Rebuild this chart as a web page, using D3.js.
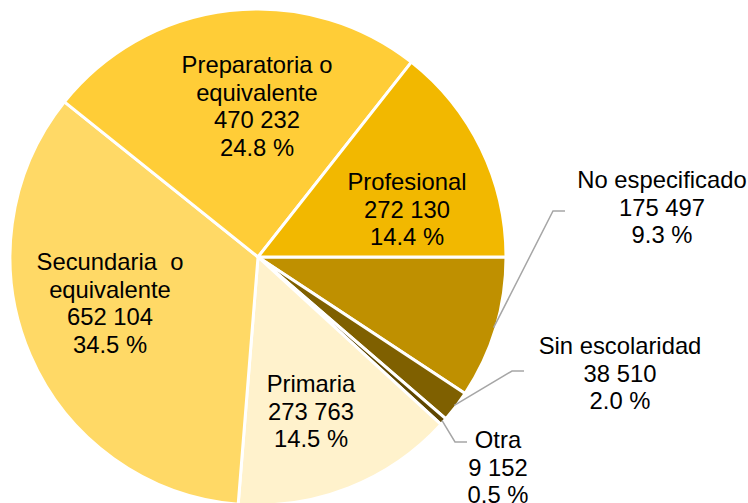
<!DOCTYPE html>
<html>
<head>
<meta charset="utf-8">
<script src="https://cdn.jsdelivr.net/npm/d3@7"></script>
<style>
  html, body { margin: 0; padding: 0; background: #fff; }
  svg { display: block; }
  text { font-family: "Liberation Sans", Arial, sans-serif; font-size: 23.8px; fill: #000; }
</style>
</head>
<body>
<svg id="chart"></svg>
<script>
// data, clockwise from 3 o'clock
var categories = ["No especificado", "Sin escolaridad", "Otra", "Primaria",
                  "Secundaria  o equivalente", "Preparatoria o equivalente", "Profesional"];
var values = [175497, 38510, 9152, 273763, 652104, 470232, 272130];
var valueLabels = ["175 497", "38 510", "9 152", "273 763", "652 104", "470 232", "272 130"];
var pctLabels = ["9.3 %", "2.0 %", "0.5 %", "14.5 %", "34.5 %", "24.8 %", "14.4 %"];
var nameLines = [["No especificado"], ["Sin escolaridad"], ["Otra"], ["Primaria"],
                 ["Secundaria  o", "equivalente"], ["Preparatoria o", "equivalente"], ["Profesional"]];

var colors = ["#BF9000", "#7F6000", "#5E4600", "#FFF2CC", "#FFD966", "#FFCD37", "#F2B800"];

var width = 748,
    height = 503,
    cx = 258, cy = 257,
    radius = 248;

// label anchors (x centre, first baseline); outside labels also get an elbow
var labelPos = [
    {x: 662, y: 188, elbow: [553, 211], end: 565},
    {x: 620, y: 354, elbow: [512, 371], end: 524},
    {x: 498, y: 448, elbow: [455, 442], end: 467},
    {x: 311, y: 392},
    {x: 110, y: 270},
    {x: 257, y: 73},
    {x: 407, y: 190}
];
var lineH = 27.5;

var svg = d3.select("#chart")
    .attr("width", width)
    .attr("height", height);

var root = svg.append("g").attr("transform", "translate(" + cx + "," + cy + ")");

var pie = d3.pie()
    .sort(null)
    .value(function (d) { return d; })
    .startAngle(Math.PI / 2)
    .endAngle(Math.PI / 2 + 2 * Math.PI);

var arc = d3.arc().innerRadius(0).outerRadius(radius);
var edgeArc = d3.arc().innerRadius(radius - 2).outerRadius(radius - 2);

var arcs = pie(values);

root.selectAll("path.slice")
    .data(arcs).enter()
    .append("path")
    .attr("class", "slice")
    .attr("d", arc)
    .attr("fill", function (d, i) { return colors[i]; })
    .attr("stroke", "#fff")
    .attr("stroke-width", 3)
    .attr("stroke-linejoin", "round");

// leader lines for the small outside slices
arcs.forEach(function (d, i) {
    var p = labelPos[i];
    if (!p.elbow) return;
    var start = edgeArc.centroid(d);
    var pts = [
        [start[0] + cx, start[1] + cy],
        p.elbow,
        [p.end, p.elbow[1]]
    ];
    svg.append("path")
        .attr("d", d3.line()(pts))
        .attr("fill", "none")
        .attr("stroke", "#A6A6A6")
        .attr("stroke-width", 1.5);
});

// labels
arcs.forEach(function (d, i) {
    var p = labelPos[i];
    var lines = nameLines[i].concat([valueLabels[i], pctLabels[i]]);
    var t = svg.append("text")
        .attr("text-anchor", "middle");
    lines.forEach(function (s, k) {
        t.append("tspan")
            .attr("x", p.x)
            .attr("y", p.y + k * lineH)
            .style("white-space", "pre")
            .text(s);
    });
});
</script>
</body>
</html>
